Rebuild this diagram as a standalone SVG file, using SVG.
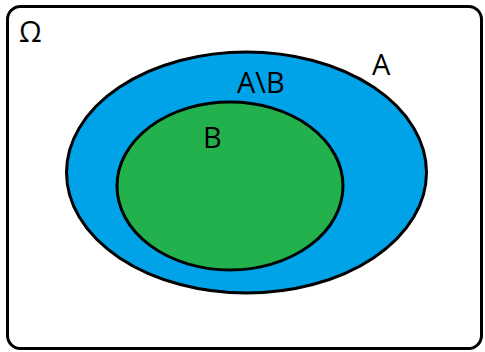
<svg xmlns="http://www.w3.org/2000/svg" width="485" height="352" viewBox="0 0 485 352">
<style>
.t{font-family:"Open Sans","Liberation Sans",sans-serif;font-size:29px;fill:#000}
.s{stroke:#000;stroke-width:3}
</style>
<rect x="0" y="0" width="485" height="352" fill="#fff"/>
<g id="omega">
<rect class="s" x="7.5" y="6.5" width="474" height="342" rx="13" fill="#fff"/>
<text class="t" x="19" y="42" font-size="27">Ω</text>
</g>
<g id="A">
<ellipse class="s" cx="246.5" cy="172.5" rx="180" ry="120.5" fill="#00A2E8"/>
<text class="t" x="372" y="75">A</text>
<text class="t" x="237" y="93">A\B</text>
</g>
<g id="B">
<ellipse class="s" cx="230" cy="186" rx="113" ry="84" fill="#22B14C"/>
<text class="t" x="203" y="148">B</text>
</g>
<g id="connectors"/>
</svg>
